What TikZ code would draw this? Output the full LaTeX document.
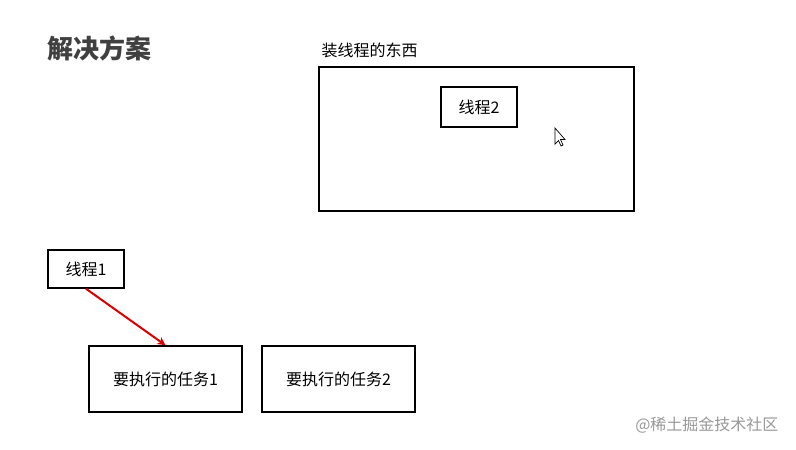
\documentclass[tikz,border=0pt]{standalone}
\usepackage{fontspec}
\setmainfont{Noto Sans CJK SC}
\usetikzlibrary{arrows.meta}
\tikzset{box/.style={draw,line width=1.5pt,inner sep=0pt,font=\fontsize{16}{18}\selectfont}}
\begin{document}
\begin{tikzpicture}[x=1pt,y=-1pt]
\useasboundingbox[fill=white] (0,0) rectangle (796,450);
\node[anchor=west,font=\fontsize{26}{30}\selectfont\bfseries,text=black!75] (title) at (44,48) {解决方案};
\node[anchor=west,font=\fontsize{16}{18}\selectfont] (lbl) at (318,50) {装线程的东西};
\node[box,minimum width=315,minimum height=144] (outer) at (476.5,139) {};
\node[box,minimum width=76,minimum height=40] (t2) at (479,107) {线程2};
\node[box,minimum width=76,minimum height=38] (t1) at (86,269) {线程1};
\node[box,minimum width=153,minimum height=66] (k1) at (165.5,379) {要执行的任务1};
\node[box,minimum width=153,minimum height=66] (k2) at (338.5,379) {要执行的任务2};
\draw[red!85!black,line width=2pt,-{Stealth[length=8pt,width=8pt]}] (t1.south) -- (k1.north);
\draw[fill=white,line width=0.7pt] (555,128) -- (555,144) -- (558.5,140.5) -- (561,146) -- (563,145) -- (560.5,139.5) -- (565,139.5) -- cycle;
\node[anchor=east,font=\fontsize{16}{18}\selectfont,text=black!40] (wm) at (782,425) {@稀土掘金技术社区};
\end{tikzpicture}
\end{document}
